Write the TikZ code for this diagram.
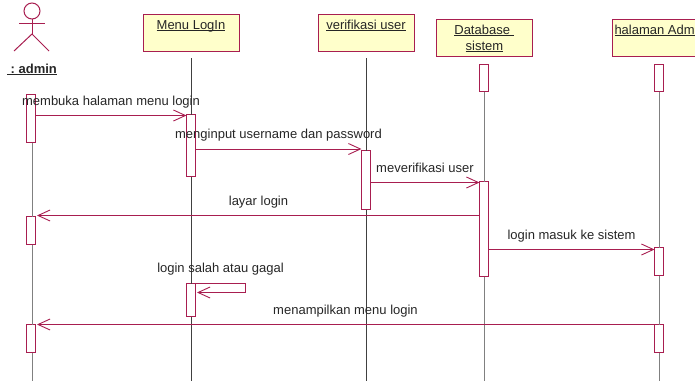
\documentclass[tikz,border=0pt]{standalone}
\usepackage{fontspec}
\setmainfont{Liberation Sans}
\usetikzlibrary{arrows.meta}
\definecolor{umlline}{HTML}{A81E50}
\definecolor{umlfill}{HTML}{FFFFCB}
\newsavebox{\ulbox}
\newcommand{\ultext}[1]{\sbox{\ulbox}{#1}\rlap{\rule[-1.7pt]{\wd\ulbox}{0.8pt}}\usebox{\ulbox}}
\tikzset{
  x=1pt,y=-1pt,
  every node/.style={font=\fontsize{13}{16}\selectfont,text=black!85,inner sep=0pt,outer sep=0pt},
  objbox/.style={draw=umlline,fill=umlfill,line width=1pt,minimum width=96pt,minimum height=37pt,anchor=north},
  act/.style={draw=umlline,fill=white,line width=1pt,minimum width=9pt,anchor=north},
  life/.style={line width=0.7pt,black!75},
  lifeg/.style={line width=1pt,black!50},
  msg/.style={draw=umlline,line width=1pt,-{Straight Barb[length=12pt,width=11pt,line width=0.9pt]}},
  actor/.style={draw=umlline,line width=1pt},
  lbl/.style={anchor=base}
}
\begin{document}
\begin{tikzpicture}
\useasboundingbox (0,0) rectangle (695,381);
\clip (0,0) rectangle (695,381);
% lifeline ends
\coordinate (ea) at (32,381);
\coordinate (em) at (191.5,381);
\coordinate (ev) at (366.5,381);
\coordinate (ed) at (484.5,381);
\coordinate (eh) at (659.5,381);
% object boxes
\node[objbox] (menu) at (191.5,14.5) {};
\node[objbox] (verif) at (366.5,14.5) {};
\node[objbox] (db) at (484.5,19.5) {};
\node[objbox] (hal) at (660.5,19.5) {};
\node[lbl] (menut) at (191,29) {\ultext{Menu LogIn}};
\node[lbl] (verift) at (366,29) {\ultext{verifikasi user}};
\node[lbl] (dbt1) at (484,34.5) {\ultext{Database\ }};
\node[lbl] (dbt2) at (484.5,50.5) {\ultext{sistem}};
\node[anchor=base west] (halt) at (614.5,34.5) {\ultext{halaman Adm}};
% actor
\node[draw=umlline,line width=1pt,circle,minimum size=16pt] (head) at (32,11) {};
\coordinate (arml) at (19,23);
\coordinate (armr) at (45,23);
\coordinate (hip) at (32,34);
\coordinate (legl) at (14,51);
\coordinate (legr) at (49,51);
\draw[actor] (head.south) -- (hip);
\draw[actor] (arml) -- (armr);
\draw[actor] (legl) -- (hip) -- (legr);
\node[lbl,font=\fontsize{13}{16}\selectfont\bfseries] (admin) at (32,73) {\ultext{\ :\ admin}};
% activations
\node[act,minimum height=48pt] (a1) at (31,94.5) {};
\node[act,minimum height=28pt] (a2) at (31,216.5) {};
\node[act,minimum height=28pt] (a3) at (31,324.5) {};
\node[act,minimum height=62pt] (m1) at (191,114.5) {};
\node[act,minimum height=33pt] (m2) at (191,283.5) {};
\node[act,minimum height=59pt] (v1) at (366,150.5) {};
\node[act,minimum height=27pt] (d0) at (484,64.5) {};
\node[act,minimum height=95pt] (d1) at (484,181.5) {};
\node[act,minimum height=27pt] (h0) at (659,64.5) {};
\node[act,minimum height=28pt] (h1) at (659,247.5) {};
\node[act,minimum height=28pt] (h2) at (659,324.5) {};
% lifelines
\coordinate (ml) at (191.5,58);
\coordinate (vl) at (366.5,58);
\draw[life] (ml) -- (m1.north -| ml);
\draw[life] (m1.south -| ml) -- (m2.north -| ml);
\draw[life] (m2.south -| ml) -- (em);
\draw[life] (vl) -- (v1.north -| vl);
\draw[life] (v1.south -| vl) -- (ev);
\draw[lifeg] (a1.south -| ea) -- (a2.north -| ea);
\draw[lifeg] (a2.south -| ea) -- (a3.north -| ea);
\draw[lifeg] (a3.south -| ea) -- (ea);
\draw[lifeg] (d0.south -| ed) -- (d1.north -| ed);
\draw[lifeg] (d1.south -| ed) -- (ed);
\draw[lifeg] (h0.south -| eh) -- (h1.north -| eh);
\draw[lifeg] (h1.south -| eh) -- (h2.north -| eh);
\draw[lifeg] (h2.south -| eh) -- (eh);
% messages
\coordinate (y1) at (0,115.5);
\coordinate (y2) at (0,149);
\coordinate (y3) at (0,182.5);
\coordinate (y4) at (0,215.5);
\coordinate (y5) at (0,249.5);
\coordinate (y6) at (0,324.5);
\coordinate (s1) at (245,283.5);
\coordinate (s2) at (245,292.5);
\draw[msg] (a1.east |- y1) -- (m1.west |- y1);
\draw[msg] (m1.east |- y2) -- (v1.west |- y2);
\draw[msg] (v1.east |- y3) -- (d1.west |- y3);
\draw[msg] (d1.west |- y4) -- ([xshift=1.5pt]a2.east |- y4);
\draw[msg] (d1.east |- y5) -- (h1.west |- y5);
\draw[msg] (m2.east |- s1) -- (s1) -- (s2) -- ([xshift=1.5pt]m2.east |- s2);
\draw[msg] (h2.west |- y6) -- ([xshift=1.5pt]a3.east |- y6);
% message labels
\node[lbl] (t1) at (111,105) {membuka halaman menu login};
\node[lbl] (t2) at (278.5,138.5) {menginput username dan password};
\node[lbl] (t3) at (425,172) {meverifikasi user};
\node[lbl] (t4) at (258.5,205) {layar login};
\node[lbl] (t5) at (571.5,239) {login masuk ke sistem};
\node[lbl] (t6) at (220.5,272) {login salah atau gagal};
\node[lbl] (t7) at (345.5,314.5) {menampilkan menu login};
\end{tikzpicture}
\end{document}
